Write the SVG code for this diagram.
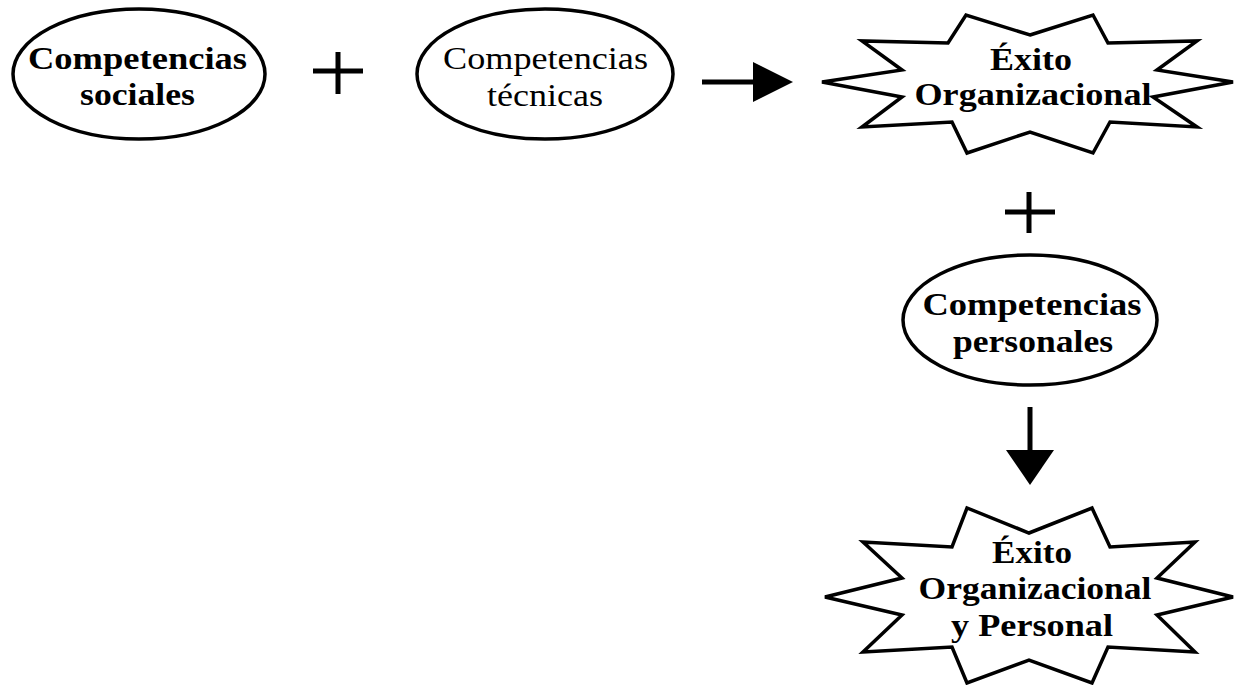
<svg xmlns="http://www.w3.org/2000/svg" width="1235" height="685" viewBox="0 0 1235 685">
<style>
.shape{fill:#fff;stroke:#000;stroke-width:3.5;stroke-linejoin:miter}
.t{font-family:"Liberation Serif","Times New Roman",serif;font-size:32px;fill:#000;text-anchor:middle}
.b{font-weight:bold}
.sym{stroke:#000;stroke-width:5;fill:none}
</style>
<rect width="1235" height="685" fill="#fff"/>
<g id="node-sociales">
<ellipse class="shape" cx="139" cy="74" rx="126" ry="65"/>
<text class="t b" x="137.5" y="69" textLength="219" lengthAdjust="spacingAndGlyphs">Competencias</text>
<text class="t b" x="137.5" y="105" textLength="115" lengthAdjust="spacingAndGlyphs">sociales</text>
</g>
<g id="node-tecnicas">
<ellipse class="shape" cx="545" cy="74" rx="128" ry="65"/>
<text class="t" x="545.5" y="69" textLength="205" lengthAdjust="spacingAndGlyphs">Competencias</text>
<text class="t" x="545" y="106" textLength="116" lengthAdjust="spacingAndGlyphs">técnicas</text>
</g>
<g id="node-exito1">
<polygon class="shape" points="1030,35 1093,15 1108,43 1197,41 1157,70 1233,82 1153,97 1197,127 1110,122 1093,153 1030,132 967,153 952,122 862,127 902,97 822,82 902,70 862,41 948,43 966,15"/>
<text class="t b" x="1031" y="70" textLength="82" lengthAdjust="spacingAndGlyphs">Éxito</text>
<text class="t b" x="1033" y="105" textLength="237" lengthAdjust="spacingAndGlyphs">Organizacional</text>
</g>
<g id="node-personales">
<ellipse class="shape" cx="1030" cy="320" rx="127" ry="65"/>
<text class="t b" x="1032" y="315" textLength="219" lengthAdjust="spacingAndGlyphs">Competencias</text>
<text class="t b" x="1033" y="352" textLength="160" lengthAdjust="spacingAndGlyphs">personales</text>
</g>
<g id="node-exito2">
<polygon class="shape" points="1029,533 1092,508 1110,547 1195,542 1157,578 1233,597 1157,615 1195,652 1108,647 1092,683 1029,660 967,683 952,647 863,652 902,615 825,597 902,578 863,542 952,547 967,508"/>
<text class="t b" x="1032" y="563" textLength="80" lengthAdjust="spacingAndGlyphs">Éxito</text>
<text class="t b" x="1035" y="599" textLength="233" lengthAdjust="spacingAndGlyphs">Organizacional</text>
<text class="t b" x="1032" y="636" textLength="162" lengthAdjust="spacingAndGlyphs">y Personal</text>
</g>
<g id="connectors">
<path class="sym" d="M313,71 H363 M338,52 V94"/>
<path class="sym" d="M1005,212 H1055 M1029,192 V233"/>
<line class="sym" x1="702" y1="82" x2="755" y2="82"/>
<polygon points="753,62 793,82 753,102" fill="#000"/>
<line class="sym" x1="1030" y1="407" x2="1030" y2="452"/>
<polygon points="1006,450 1054,450 1030,485" fill="#000"/>
</g>
</svg>
